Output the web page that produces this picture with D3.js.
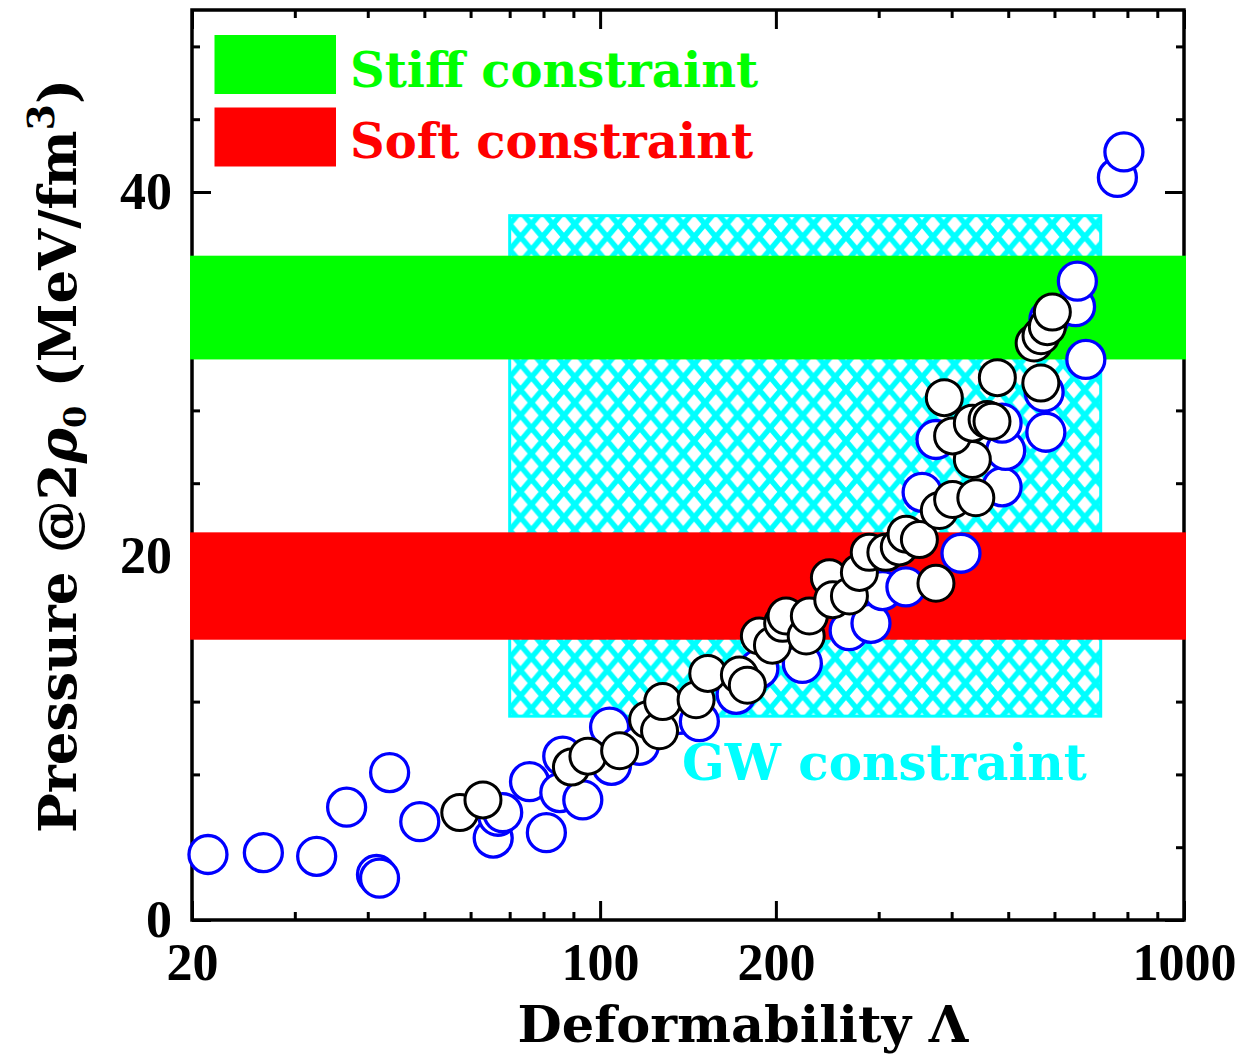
<!DOCTYPE html>
<html>
<head>
<meta charset="utf-8">
<script src="https://cdn.jsdelivr.net/npm/d3@7"></script>
<style>
  html, body { margin: 0; padding: 0; background: #ffffff; }
  svg { display: block; }
</style>
</head>
<body>
<svg id="chart" width="1242" height="1056"></svg>
<script>
// ---- data ----
const blueLambda = [21.3, 26.5, 32.7, 36.8, 43.6, 41.4, 41.9, 49.1, 65.6, 66.8, 68.1, 75.7, 80.9, 85.3, 93.4,
  86.3, 104.6, 103.8, 116.8, 136.7, 147.9, 171, 187, 222, 267, 291, 304.6, 334, 415, 356, 376, 488, 495, 488,
  580, 576, 587, 652, 656.7, 679, 769, 789];
const bluePressure = [3.6, 3.7, 3.5, 6.2, 8.1, 2.5, 2.3, 5.4, 4.5, 5.7, 5.9, 7.6, 4.8, 7.0, 6.6,
  9.0, 8.5, 10.6, 9.6, 11.3, 10.9, 12.4, 13.8, 14.1, 15.9, 16.3, 18.1, 18.3, 20.15, 23.5, 26.4, 23.8, 25.8, 27.3,
  26.8, 29.0, 33.0, 33.7, 35.1, 30.8, 40.8, 42.2];

const blackLambda = [57.5, 63.0, 89.3, 95.3, 108, 120.6, 126.4, 128, 146, 152.9, 173.2, 178.7, 187.4, 197.3,
  205.4, 208.2, 225.4, 228.2, 247, 250.3, 267.3, 278, 289, 308.6, 325.4, 334.2, 352.2, 376, 381, 401.5, 440,
  434, 401.5, 388.6, 434, 460, 469, 479, 568.6, 553.8, 569, 583.4, 595];
const blackPressure = [5.9, 6.6, 8.4, 9.0, 9.3, 11.0, 10.4, 12.0, 12.1, 13.55, 13.46, 12.9, 15.6, 15.1,
  16.3, 16.7, 15.6, 16.7, 18.8, 17.6, 17.8, 19.1, 20.2, 20.2, 20.5, 21.2, 20.9, 18.5, 22.5, 23.1, 23.2,
  25.3, 26.6, 28.7, 27.3, 27.5, 27.4, 29.8, 29.5, 31.7, 32.1, 32.6, 33.4];

const stiffRange = [30.8, 36.5];
const softRange = [15.4, 21.3];
const gwLambdaRange = [70, 720];
const gwPressureRange = [11.2, 38.7];

const xMajorTicks = [20, 100, 200, 1000];
const xMinorTicks = [30, 40, 50, 60, 70, 80, 90, 300, 400, 500, 600, 700, 800, 900];
const yMajorTicks = [0, 20, 40];
const yMinorTicks = [4, 8, 12, 16, 24, 28, 32, 36, 44, 48];

const legendLabels = ["Stiff constraint", "Soft constraint"];
const legendColors = ["#00ff00", "#ff0000"];

// ---- layout ----
const plot = { left: 192, right: 1184, top: 10, bottom: 920 };
const textFont = "'DejaVu Serif', serif";
const numFont = "'Liberation Serif', 'DejaVu Serif', serif";

const svg = d3.select("#chart");
const x = d3.scaleLog().domain([20, 1000]).range([plot.left, plot.right]);
const y = d3.scaleLinear().domain([0, 50]).range([plot.bottom, plot.top]);

// cross-hatch used for the GW box
const hw = 21.7, hh = 25.5;
const gx0 = x(gwLambdaRange[0]), gx1 = x(gwLambdaRange[1]);
const gy0 = y(gwPressureRange[1]), gy1 = y(gwPressureRange[0]);
const defs = svg.append("defs");
const pat = defs.append("pattern")
  .attr("id", "gwHatch")
  .attr("patternUnits", "userSpaceOnUse")
  .attr("width", hw).attr("height", hh)
  .attr("x", gx0).attr("y", gy0 + 8.5);
pat.append("rect").attr("width", hw).attr("height", hh).attr("fill", "#ffffff");
pat.append("path")
  .attr("d", `M${-hw},${-hh}L${2*hw},${2*hh}M${2*hw},${-hh}L${-hw},${2*hh}` +
             `M${hw},0L${2*hw},${hh}M${-hw},0L0,${hh}M0,0L${-hw},${hh}M${2*hw},0L${hw},${hh}`)
  .attr("stroke", "#00ffff").attr("stroke-width", 5.5).attr("fill", "none");

// ---- axes (frame + inward ticks) ----
const axisG = svg.append("g").attr("class", "axes");

function styleAxis(g, w) {
  g.select(".domain").remove();
  g.selectAll(".tick line").attr("stroke", "#000").attr("stroke-width", w);
}

axisG.append("g").attr("transform", `translate(0,${plot.bottom})`)
  .call(d3.axisBottom(x).tickValues(xMajorTicks).tickSize(-19).tickPadding(23)
    .tickFormat(d3.format("d")))
  .call(g => styleAxis(g, 3))
  .call(g => g.selectAll(".tick text")
    .attr("font-family", numFont).attr("font-weight", "bold").attr("font-size", 52).attr("fill", "#000"));
axisG.append("g").attr("transform", `translate(0,${plot.bottom})`)
  .call(d3.axisBottom(x).tickValues(xMinorTicks).tickSize(-8).tickFormat(""))
  .call(g => styleAxis(g, 3));
axisG.append("g").attr("transform", `translate(0,${plot.top})`)
  .call(d3.axisTop(x).tickValues(xMajorTicks).tickSize(-19).tickFormat(""))
  .call(g => styleAxis(g, 3));
axisG.append("g").attr("transform", `translate(0,${plot.top})`)
  .call(d3.axisTop(x).tickValues(xMinorTicks).tickSize(-8).tickFormat(""))
  .call(g => styleAxis(g, 3));

axisG.append("g").attr("transform", `translate(${plot.left},0)`)
  .call(d3.axisLeft(y).tickValues(yMajorTicks).tickSize(-19).tickPadding(20)
    .tickFormat(d3.format("d")))
  .call(g => styleAxis(g, 3))
  .call(g => g.selectAll(".tick text")
    .attr("font-family", numFont).attr("font-weight", "bold").attr("font-size", 52).attr("fill", "#000"));
axisG.append("g").attr("transform", `translate(${plot.left},0)`)
  .call(d3.axisLeft(y).tickValues(yMinorTicks).tickSize(-8).tickFormat(""))
  .call(g => styleAxis(g, 3));
axisG.append("g").attr("transform", `translate(${plot.right},0)`)
  .call(d3.axisRight(y).tickValues(yMajorTicks).tickSize(-19).tickFormat(""))
  .call(g => styleAxis(g, 3));
axisG.append("g").attr("transform", `translate(${plot.right},0)`)
  .call(d3.axisRight(y).tickValues(yMinorTicks).tickSize(-8).tickFormat(""))
  .call(g => styleAxis(g, 3));

axisG.append("rect")
  .attr("x", plot.left).attr("y", plot.top)
  .attr("width", plot.right - plot.left).attr("height", plot.bottom - plot.top)
  .attr("fill", "none").attr("stroke", "#000").attr("stroke-width", 3.5);

// ---- GW constraint box ----
svg.append("rect")
  .attr("x", gx0).attr("y", gy0)
  .attr("width", gx1 - gx0).attr("height", gy1 - gy0)
  .attr("fill", "url(#gwHatch)")
  .attr("stroke", "#00ffff").attr("stroke-width", 3);

// ---- stiff / soft bands across the full Λ range ----
const bands = [
  { range: stiffRange, color: "#00ff00" },
  { range: softRange, color: "#ff0000" }
];
svg.append("g").selectAll("rect").data(bands).join("rect")
  .attr("x", x(20) - 2)
  .attr("width", x(1000) - x(20) + 4)
  .attr("y", d => y(d.range[1]))
  .attr("height", d => y(d.range[0]) - y(d.range[1]))
  .attr("fill", d => d.color);

// ---- model points ----
const blueData = blueLambda.map((l, i) => ({ l, p: bluePressure[i] }));
const blackData = blackLambda.map((l, i) => ({ l, p: blackPressure[i] }));

svg.append("g").selectAll("circle").data(blueData).join("circle")
  .attr("cx", d => x(d.l)).attr("cy", d => y(d.p)).attr("r", 19)
  .attr("fill", "#ffffff").attr("stroke", "#0000ff").attr("stroke-width", 3.3);

svg.append("g").selectAll("circle").data(blackData).join("circle")
  .attr("cx", d => x(d.l)).attr("cy", d => y(d.p)).attr("r", 18)
  .attr("fill", "#ffffff").attr("stroke", "#000000").attr("stroke-width", 3);

// ---- legend ----
const legend = svg.append("g");
legendLabels.forEach((lab, i) => {
  legend.append("rect")
    .attr("x", 214.5).attr("y", 35 + i * 72.5)
    .attr("width", 121.5).attr("height", 59)
    .attr("fill", legendColors[i]);
  legend.append("text")
    .attr("x", 350).attr("y", 86.5 + i * 71.5)
    .attr("font-family", textFont).attr("font-weight", "bold").attr("font-size", 48)
    .attr("fill", legendColors[i])
    .text(lab);
});

svg.append("text")
  .attr("x", 682).attr("y", 780)
  .attr("font-family", textFont).attr("font-weight", "bold").attr("font-size", 50)
  .attr("fill", "#00ffff")
  .text("GW constraint");

// ---- axis titles ----
svg.append("text")
  .attr("x", 743).attr("y", 1042)
  .attr("text-anchor", "middle")
  .attr("font-family", textFont).attr("font-weight", "bold").attr("font-size", 51)
  .attr("fill", "#000")
  .text("Deformability Λ");

const yTitle = svg.append("text")
  .attr("transform", "translate(76,456) rotate(-90)")
  .attr("text-anchor", "middle")
  .attr("font-family", textFont).attr("font-weight", "bold").attr("font-size", 53)
  .attr("fill", "#000");
yTitle.append("tspan").text("Pressure @2");
yTitle.append("tspan").attr("font-style", "italic").text("ρ");
yTitle.append("tspan").attr("font-size", 32).attr("dy", 10).text("0");
yTitle.append("tspan").attr("dy", -10).text(" (MeV/fm");
yTitle.append("tspan").attr("font-size", 38).attr("dy", -22).text("3");
yTitle.append("tspan").attr("dy", 22).text(")");
</script>
</body>
</html>
